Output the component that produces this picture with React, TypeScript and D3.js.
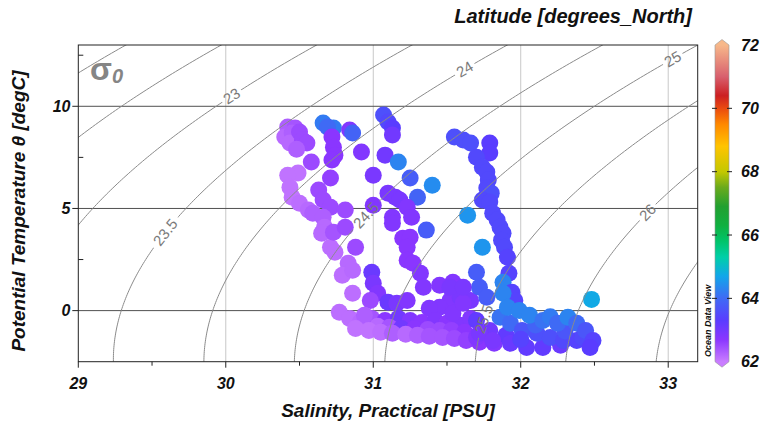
import * as d3 from 'd3';

type Pt = [number, number, number]; // [salinity, potential temperature, latitude]

const X_TICKS = [29, 30, 31, 32, 33];
const X_MINOR = [29.5, 30.5, 31.5, 32.5];
const Y_TICKS = [0, 5, 10];
const Y_MINOR = [2.5, 7.5, 12.5];
const CBAR_TICKS = [62, 64, 66, 68, 70, 72];

const SIGMA_LEVELS = [22, 22.5, 23, 23.5, 24, 24.5, 25, 25.5, 26, 26.5];
// [sigma level, salinity where the label sits]
const SIGMA_LABELS: [number, number][] = [
  [23, 30.04], [23.5, 29.59], [24, 31.62], [24.5, 30.95], [25, 33.03], [25.5, 31.75], [26, 32.86],
];

const PALETTE_VALUES = [62, 62.7, 63.3, 64.0, 64.7, 65.3, 65.8, 66.3, 66.9, 67.5, 68.0, 68.8, 69.5, 70.0, 70.4, 71.0, 72];
const PALETTE_COLORS = [
  '#c97dff', '#8a36ff', '#5a3cff', '#3f6af5', '#12a6ea', '#00cfa8', '#00c46a', '#10b040',
  '#22a030', '#6aaa1c', '#c4c800', '#ffc400', '#ff8800', '#ea4a10', '#cc1f22', '#d8606e', '#f7b88a',
];

const leftCluster: Pt[] = [
  [30.42, 8.99, 62.3], [30.47, 8.94, 62.4], [30.40, 8.50, 62.2], [30.45, 8.69, 62.3],
  [30.435, 8.20, 62.2], [30.50, 8.74, 62.5], [30.52, 8.35, 62.5], [30.55, 8.20, 62.5],
  [30.48, 7.90, 62.3], [30.58, 7.27, 62.5], [30.49, 6.73, 62.1], [30.42, 6.63, 62.1],
  [30.435, 6.04, 62.1], [30.45, 5.55, 62.1], [30.50, 5.26, 62.15], [30.56, 4.92, 62.2],
  [30.59, 4.77, 62.3], [30.63, 5.90, 62.5], [30.66, 5.41, 62.5], [30.71, 5.06, 62.5],
  [30.71, 6.49, 62.6], [30.66, 4.57, 62.3], [30.67, 4.08, 62.2], [30.65, 3.79, 62.2],
  [30.71, 3.10, 62.15], [30.74, 2.86, 62.15], [30.73, 3.84, 62.4], [30.81, 4.08, 62.5],
  [30.81, 4.92, 62.5], [30.88, 3.10, 62.5], [30.83, 2.32, 62.2], [30.79, 1.73, 62.15],
  [30.86, 1.98, 62.2], [30.86, 0.85, 62.15],
];

const upperColumn: Pt[] = [
  [30.66, 9.18, 64.2], [30.73, 8.94, 64.2], [30.69, 8.99, 64.0], [30.72, 8.50, 62.7],
  [30.73, 8.00, 62.7], [30.74, 7.61, 62.7], [30.72, 7.37, 62.7], [30.84, 8.84, 62.8],
  [30.86, 8.69, 63.9], [30.92, 7.76, 62.8], [31.00, 6.63, 62.9], [31.08, 7.61, 63.0],
  [31.00, 5.16, 62.8], [31.07, 9.57, 63.6], [31.10, 9.23, 63.5], [31.13, 8.94, 63.3],
  [31.13, 8.59, 63.0], [31.17, 7.27, 64.3], [31.25, 6.49, 63.8], [31.40, 6.14, 64.4],
  [31.30, 5.55, 63.9], [31.36, 3.94, 63.8],
];

const middleLoop: Pt[] = [
  [31.10, 5.75, 62.9], [31.15, 5.55, 62.9], [31.18, 5.41, 62.9], [31.23, 5.06, 62.8],
  [31.26, 4.57, 62.8], [31.13, 4.57, 62.8], [31.13, 4.28, 62.8], [31.20, 3.54, 62.7],
  [31.25, 3.59, 62.7], [31.23, 3.10, 62.7], [31.23, 2.47, 62.7], [31.27, 2.32, 62.7],
  [31.32, 1.83, 62.8], [31.34, 1.14, 62.8], [30.99, 1.88, 63.1], [31.00, 1.34, 62.9],
  [31.03, 0.85, 62.8], [30.98, 0.50, 62.5], [31.10, 0.41, 63.1], [31.16, 0.36, 62.9],
  [31.23, 0.50, 62.8], [31.45, 1.24, 62.8], [31.54, 1.39, 62.8], [31.59, 1.14, 62.8],
  [31.52, 0.50, 62.8], [31.45, 0.16, 62.8], [31.38, 0.11, 62.8], [31.59, 0.65, 62.9],
  [31.66, 0.50, 62.9],
];

const rightColumn: Pt[] = [
  [31.55, 8.50, 63.6], [31.61, 8.35, 63.6], [31.66, 8.20, 63.6], [31.79, 8.20, 63.3],
  [31.79, 7.71, 63.3], [31.70, 7.51, 63.5], [31.74, 7.02, 63.5], [31.77, 6.78, 63.5],
  [31.78, 6.39, 63.5], [31.77, 6.00, 63.5], [31.80, 5.75, 63.6], [31.74, 5.41, 63.5],
  [31.79, 5.31, 63.5], [31.81, 4.77, 63.5], [31.84, 4.43, 63.5], [31.86, 4.08, 63.5],
  [31.88, 3.79, 63.5], [31.87, 3.45, 63.5], [31.89, 3.10, 63.5], [31.91, 2.61, 63.4],
  [31.64, 4.67, 64.5], [31.74, 3.10, 64.5], [31.70, 1.88, 63.8], [31.92, 1.83, 63.4],
  [31.88, 1.39, 64.3], [31.72, 1.14, 63.8], [31.77, 0.65, 63.8], [31.94, 0.90, 63.4],
  [31.96, 0.50, 63.4], [31.88, 0.85, 64.3], [32.48, 0.55, 64.75],
];

const bottomBand: Pt[] = [
  [30.77, -0.08, 62.15], [30.84, -0.38, 62.15], [30.91, -0.58, 62.2], [30.99, -0.38, 62.4],
  [31.08, -0.48, 62.7], [31.17, -0.38, 63.0], [31.25, -0.48, 62.8], [31.33, -0.58, 62.7],
  [31.42, -0.48, 62.8], [31.50, -0.62, 62.7], [31.59, -0.72, 62.8], [31.66, -0.38, 62.8],
  [30.94, -0.23, 62.3], [31.03, -0.77, 62.2], [31.11, -0.82, 62.4], [31.19, -0.87, 63.0],
  [31.28, -0.87, 62.7], [31.37, -0.92, 62.5], [31.45, -0.97, 62.5], [31.53, -0.97, 62.6],
  [31.62, -1.06, 62.7], [31.79, -0.97, 63.0],
  [30.88, -0.87, 62.1], [30.97, -0.97, 62.1], [31.05, -1.06, 62.15], [31.13, -1.11, 62.3],
  [31.22, -1.16, 62.2], [31.30, -1.21, 62.3], [31.38, -1.26, 62.4], [31.47, -1.31, 62.4],
  [31.55, -1.36, 62.5], [31.63, -1.46, 62.6], [31.72, -1.55, 62.7], [31.82, -1.60, 62.8],
  [32.27, -1.70, 63.1], [31.90, -1.20, 63.2], [31.70, -1.30, 62.8],
];

const bottomRight: Pt[] = [
  [31.54, -0.13, 62.8], [31.61, 0.36, 62.8], [31.52, 1.14, 62.9], [31.61, 1.14, 62.9],
  [31.70, -0.48, 63.2], [31.72, -1.11, 62.9], [31.81, -1.46, 62.9], [31.93, -1.60, 63.1],
  [32.04, -1.80, 63.2], [32.15, -1.80, 63.2],
  [31.86, -0.33, 64.1], [31.93, -0.62, 64.0], [32.01, -0.97, 63.7], [32.11, -1.11, 63.6],
  [32.20, -1.31, 63.6], [32.29, -1.46, 63.5], [32.38, -1.46, 63.4],
  [32.10, -0.70, 63.9], [32.30, -1.00, 63.7], [32.00, -1.40, 63.4], [32.42, -1.30, 63.5],
  [31.91, 0.16, 64.3], [31.99, 0.01, 64.3], [32.06, -0.23, 64.3], [32.15, -0.48, 64.1],
  [32.20, -0.30, 64.2], [32.25, -0.62, 64.0], [32.32, -0.33, 64.3], [32.38, -0.62, 64.0],
  [32.44, -0.97, 63.7], [32.49, -1.46, 63.4], [32.47, -1.80, 63.3],
];

const FONT = 'Liberation Sans, Arial, sans-serif';
const W = 765;
const H = 425;

// UNESCO 1983 density at p = 0, minus 1000
function sigma0(S: number, T: number) {
  const rw = 999.842594 + 6.793952e-2 * T - 9.09529e-3 * T ** 2 + 1.001685e-4 * T ** 3
    - 1.120083e-6 * T ** 4 + 6.536332e-9 * T ** 5;
  const A = 0.824493 - 4.0899e-3 * T + 7.6438e-5 * T ** 2 - 8.2467e-7 * T ** 3 + 5.3875e-9 * T ** 4;
  const B = -5.72466e-3 + 1.0227e-4 * T - 1.6546e-6 * T ** 2;
  return rw + A * S + B * S ** 1.5 + 4.8314e-4 * S * S - 1000;
}

function salinityAt(level: number, T: number) {
  let lo = 20, hi = 40;
  for (let i = 0; i < 40; i++) {
    const m = (lo + hi) / 2;
    if (sigma0(m, T) < level) lo = m; else hi = m;
  }
  return (lo + hi) / 2;
}

function tempAt(level: number, S: number) {
  let lo = -2.5, hi = 25;
  for (let i = 0; i < 40; i++) {
    const m = (lo + hi) / 2;
    if (sigma0(S, m) > level) lo = m; else hi = m;
  }
  return (lo + hi) / 2;
}

export default function App() {
  const x = d3.scaleLinear().domain([29, 33.2]).range([78.3, 697.7]);
  const y = d3.scaleLinear().domain([-2.5, 13]).range([361.7, 45]);
  const cbarY = d3.scaleLinear().domain([62, 72]).range([361.7, 45]);
  const color = d3.scaleLinear<string>().domain(PALETTE_VALUES).range(PALETTE_COLORS)
    .interpolate(d3.interpolateRgb).clamp(true);

  const [x0, x1] = x.range();
  const [yb, yt] = y.range();

  const temps = d3.range(-2.8, 13.3, 0.1);
  const line = d3.line<[number, number]>().x(d => x(d[0])).y(d => y(d[1])).curve(d3.curveLinear);
  const contours = SIGMA_LEVELS.map(lv => ({
    level: lv,
    path: line(temps.map(t => [salinityAt(lv, t), t] as [number, number])) || '',
  }));

  const labels = SIGMA_LABELS.map(([lv, s]) => {
    const t = tempAt(lv, s);
    const sa = salinityAt(lv, t - 0.15), sb = salinityAt(lv, t + 0.15);
    const dx = x(sb) - x(sa), dy = y(t + 0.15) - y(t - 0.15);
    const ang = (Math.atan2(dy, dx) * 180) / Math.PI;
    const txt = String(lv);
    return { txt, px: x(s), py: y(t), ang, w: txt.length * 8.2 + 6 };
  });

  const points = [...leftCluster, ...upperColumn, ...middleLoop, ...rightColumn, ...bottomBand, ...bottomRight];

  const cbx0 = 715, cbx1 = 729, cbxc = (cbx0 + cbx1) / 2;
  const cTop = cbarY(72), cBot = cbarY(62);
  const tipTop = cTop - 5.5, tipBot = cBot + 5.5;
  const cbarPath = `M${cbx0},${cTop} L${cbxc},${tipTop} L${cbx1},${cTop} L${cbx1},${cBot} L${cbxc},${tipBot} L${cbx0},${cBot} Z`;

  return (
    <svg width={W} height={H} style={{ position: 'absolute', left: 0, top: 0, background: '#fff' }} fontFamily={FONT}>
      <defs>
        <clipPath id="plotClip">
          <rect x={x0} y={yt} width={x1 - x0} height={yb - yt} />
        </clipPath>
        <mask id="labelGap" maskUnits="userSpaceOnUse" x={0} y={0} width={W} height={H}>
          <rect x={0} y={0} width={W} height={H} fill="#fff" />
          {labels.map(l => (
            <rect key={l.txt} x={-l.w / 2} y={-7} width={l.w} height={14} fill="#000"
              transform={`translate(${l.px},${l.py}) rotate(${l.ang})`} />
          ))}
        </mask>
        <linearGradient id="cbarGrad" gradientUnits="userSpaceOnUse" x1={0} y1={cBot} x2={0} y2={cTop}>
          {PALETTE_VALUES.map((v, i) => (
            <stop key={v} offset={(v - 62) / 10} stopColor={PALETTE_COLORS[i]} />
          ))}
        </linearGradient>
      </defs>

      {/* grid */}
      {X_TICKS.filter(v => v > 29).map(v => (
        <line key={`gx${v}`} x1={x(v)} x2={x(v)} y1={yt} y2={yb} stroke="#c8c8c8" strokeWidth={1} />
      ))}
      {Y_TICKS.map(v => (
        <line key={`gy${v}`} x1={x0} x2={x1} y1={y(v)} y2={y(v)} stroke="#505050" strokeWidth={1} />
      ))}

      {/* points */}
      <g>
        {points.map((p, i) => (
          <circle key={i} cx={x(p[0])} cy={y(p[1])} r={8.5} fill={color(p[2])} />
        ))}
      </g>

      {/* isopycnals */}
      <g clipPath="url(#plotClip)">
        <g mask="url(#labelGap)">
          {contours.map(c => (
            <path key={c.level} d={c.path} fill="none" stroke="#8a8a8a" strokeWidth={1} />
          ))}
        </g>
      </g>
      {labels.map(l => (
        <text key={l.txt} transform={`translate(${l.px},${l.py}) rotate(${l.ang})`} textAnchor="middle"
          dy="0.35em" fontSize={15} fill="#7a7a7a">{l.txt}</text>
      ))}

      {/* sigma label */}
      <text x={90} y={80} fill="#858585" fontWeight="bold">
        <tspan fontSize={32}>σ</tspan>
        <tspan fontSize={20} fontStyle="italic" dy={3}>0</tspan>
      </text>

      {/* frame */}
      <rect x={x0} y={yt} width={x1 - x0} height={yb - yt} fill="none" stroke="#222" strokeWidth={1} />

      {/* x axis */}
      {X_TICKS.map(v => (
        <g key={`xt${v}`}>
          <line x1={x(v)} x2={x(v)} y1={yb} y2={yb + 6} stroke="#222" />
          <text x={x(v)} y={388.5} textAnchor="middle" fontSize={16} fontWeight="bold" fontStyle="italic" fill="#111">{v}</text>
        </g>
      ))}
      {X_MINOR.map(v => (
        <line key={`xm${v}`} x1={x(v)} x2={x(v)} y1={yb} y2={yb + 4} stroke="#222" />
      ))}

      {/* y axis */}
      {Y_TICKS.map(v => (
        <g key={`yt${v}`}>
          <line x1={x0 - 6} x2={x0} y1={y(v)} y2={y(v)} stroke="#222" />
          <text x={70.5} y={y(v)} dy="0.36em" textAnchor="end" fontSize={16} fontWeight="bold" fontStyle="italic" fill="#111">{v}</text>
        </g>
      ))}
      {Y_MINOR.map(v => (
        <line key={`ym${v}`} x1={x0} x2={x0 + 5} y1={y(v)} y2={y(v)} stroke="#222" />
      ))}

      {/* axis titles */}
      <text x={(x0 + x1) / 2} y={417} textAnchor="middle" fontSize={19} fontWeight="bold" fontStyle="italic" fill="#111">
        Salinity, Practical [PSU]
      </text>
      <text transform="translate(25,211) rotate(-90)" textAnchor="middle" fontSize={19} fontWeight="bold" fontStyle="italic" fill="#111">
        Potential Temperature θ [degC]
      </text>
      <text x={692} y={22.5} textAnchor="end" fontSize={20} fontWeight="bold" fontStyle="italic" fill="#111">
        Latitude [degrees_North]
      </text>

      {/* colour bar */}
      <path d={cbarPath} fill="url(#cbarGrad)" stroke="#999" strokeWidth={0.6} />
      {CBAR_TICKS.filter(v => v > 62 && v < 72).map(v => (
        <g key={`ct${v}`}>
          <line x1={cbx0 - 3} x2={cbx0 + 2} y1={cbarY(v)} y2={cbarY(v)} stroke="#222" />
          <line x1={cbx1 - 2} x2={cbx1 + 3} y1={cbarY(v)} y2={cbarY(v)} stroke="#222" />
        </g>
      ))}
      {CBAR_TICKS.map(v => (
        <text key={`cl${v}`} x={741} y={cbarY(v)} dy="0.36em" fontSize={16} fontWeight="bold" fontStyle="italic" fill="#111">{v}</text>
      ))}
      <text transform="translate(711,357) rotate(-90)" fontSize={9} fontWeight="bold" fontStyle="italic" fill="#111">
        Ocean Data View
      </text>
    </svg>
  );
}
